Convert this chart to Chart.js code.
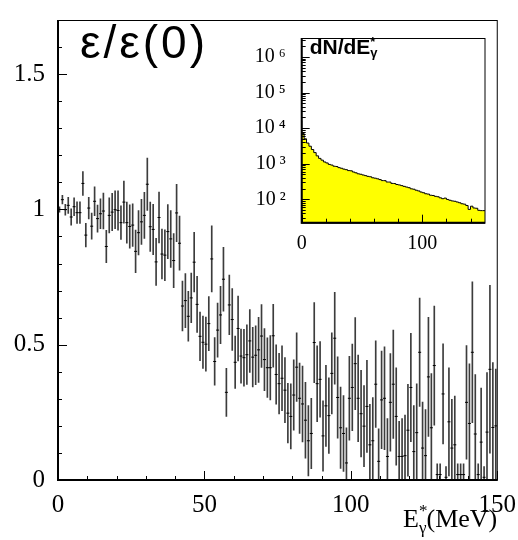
<!DOCTYPE html>
<html>
<head>
<meta charset="utf-8">
<script src="https://cdn.jsdelivr.net/npm/chart.js@4/dist/chart.umd.min.js"></script>
<style>
body { margin: 0; background: #fff; }
#wrap { position: relative; width: 518px; height: 540px; }
#main { position: absolute; left: 0; top: 0; }
#inset { position: absolute; left: 255px; top: 18px; }
</style>
</head>
<body>
<div id="wrap">
  <canvas id="main" width="518" height="540"></canvas>
  <canvas id="inset" width="236" height="232"></canvas>
</div>
<script>
// efficiency ratio eps/eps(0) in 1 MeV bins (centres 0.5 ... 149.5)
const binWidth = 1;
const ratio = [
  1.00, 1.036, 0.999, 1.015, 0.972, 1.01, 0.988, 0.988, 1.096, 0.905,
  1.005, 0.938, 1.03, 0.966, 0.984, 0.994, 0.863, 0.978, 0.99, 0.999,
  0.996, 0.951, 1.027, 0.951, 0.937, 0.942, 0.845, 0.914, 0.954, 0.978,
  1.093, 0.936, 0.926, 0.806, 0.970, 0.835, 0.831, 0.918, 0.891, 0.811,
  0.987, 0.875, 0.643, 0.663, 0.605, 0.673, 0.805, 0.649, 0.531, 0.509,
  0.502, 0.578, 0.817, 0.438, 0.554, 0.610, 0.742, 0.324, 0.647, 0.593,
  0.435, 0.560, 0.458, 0.452, 0.463, 0.514, 0.454, 0.461, 0.481, 0.532,
  0.445, 0.415, 0.415, 0.533, 0.390, 0.356, 0.376, 0.332, 0.247, 0.235,
  0.314, 0.417, 0.302, 0.281, 0.221, 0.145, 0.172, 0.508, 0.356, 0.372,
  0.163, 0.274, 0.238, 0.394, 0.524, 0.305, 0.193, 0.172, 0.063, 0.302,
  0.342, 0.430, 0.302, 0.245, 0.199, 0.272, 0.130, 0.145, 0.354, 0.069,
  0.296, 0.302, 0.087, 0.287, 0.354, 0.235, 0.087, 0.087, 0.090, 0.184,
  0.342, 0.105, 0.175, 0.472, 0.118, 0.090, 0.381, 0.193, 0.423, 0.02,
  0.02, 0.318, 0.01, 0.215, 0.118, 0.130, 0.02, 0.02, 0.02, 0.287,
  0.209, 0.472, 0.170, 0.02, 0.140, 0.01, 0.177, 0.409, 0.194, 0.200
];
const ratioErr = [
  0.01, 0.016, 0.02, 0.03, 0.03, 0.033, 0.04, 0.04, 0.044, 0.044,
  0.04, 0.048, 0.053, 0.05, 0.055, 0.066, 0.06, 0.065, 0.069, 0.07,
  0.073, 0.062, 0.078, 0.076, 0.08, 0.079, 0.079, 0.082, 0.083, 0.085,
  0.097, 0.091, 0.093, 0.087, 0.094, 0.092, 0.094, 0.1, 0.105, 0.1,
  0.106, 0.1, 0.092, 0.1, 0.092, 0.092, 0.11, 0.104, 0.09, 0.097,
  0.1, 0.1, 0.122, 0.088, 0.1, 0.106, 0.118, 0.089, 0.11, 0.114,
  0.097, 0.12, 0.1, 0.105, 0.11, 0.116, 0.11, 0.109, 0.12, 0.116,
  0.115, 0.11, 0.119, 0.116, 0.11, 0.112, 0.12, 0.12, 0.11, 0.12,
  0.13, 0.127, 0.13, 0.14, 0.14, 0.13, 0.13, 0.148, 0.14, 0.14,
  0.13, 0.15, 0.14, 0.15, 0.17, 0.15, 0.15, 0.14, 0.13, 0.155,
  0.16, 0.17, 0.16, 0.16, 0.15, 0.17, 0.15, 0.16, 0.16, 0.12,
  0.18, 0.19, 0.14, 0.18, 0.2, 0.18, 0.13, 0.14, 0.15, 0.17,
  0.2, 0.17, 0.18, 0.2, 0.17, 0.17, 0.22, 0.2, 0.22, 0.04,
  0.04, 0.185, 0.04, 0.2, 0.18, 0.18, 0.04, 0.04, 0.04, 0.21,
  0.22, 0.26, 0.22, 0.04, 0.2, 0.04, 0.22, 0.31, 0.24, 0.21
];
const energy = ratio.map((v, i) => (i + 0.5) * binWidth);

// inset: dN/dE* spectrum, 2 MeV bins from 0 to 152
const histWidth = 2;
const histCounts = [
  16000, 7100, 5000, 3800, 3100, 2500, 2050, 1660, 1410, 1260,
  1120, 1050, 955, 915, 850, 835, 775, 745, 705, 680,
  640, 632, 585, 555, 520, 505, 482, 462, 441, 430,
  402, 392, 376, 358, 335, 334, 306, 305, 280, 277,
  260, 253, 242, 231, 221, 212, 197, 192, 180, 172,
  160, 153, 143, 140, 130, 128, 121, 118, 110, 104,
  108, 99, 94, 90, 88, 84, 80, 75, 73, 67,
  52, 64, 57, 56, 49, 48
];

// tick labels
const xTickLabels = [0, 50, 100, 150];
const yTickLabels = [0, 0.5, 1, 1.5];
const insetXTickLabels = [0, 100];
const insetYTickLabels = [100, 1000, 10000, 100000, 1000000];
const sup = {2: '²', 3: '³', 4: '⁴', 5: '⁵', 6: '⁶'};

Chart.defaults.font.family = '"Liberation Serif", "DejaVu Serif", serif';
Chart.defaults.color = '#000';

// frame with inward ticks, ROOT style
const frameTicks = {
  id: 'frameTicks',
  afterDraw(chart, args, opts) {
    const {ctx, chartArea: a} = chart;
    const x = chart.scales.x, y = chart.scales.y;
    ctx.save();
    ctx.strokeStyle = '#000';
    ctx.lineWidth = 1;
    ctx.beginPath();
    opts.xMarks.forEach(([v, len]) => {
      const px = Math.round(x.getPixelForValue(v)) + 0.5;
      ctx.moveTo(px, a.bottom);
      ctx.lineTo(px, a.bottom - len);
    });
    opts.yMarks.forEach(([v, len]) => {
      const py = Math.round(y.getPixelForValue(v)) + 0.5;
      ctx.moveTo(a.left, py);
      ctx.lineTo(a.left + len, py);
    });
    ctx.stroke();
    ctx.lineWidth = 1;
    ctx.strokeRect(a.left, a.top + 0.5, a.right - a.left, a.bottom - a.top);
    ctx.lineWidth = 2;
    ctx.beginPath();
    ctx.moveTo(a.left, a.top);
    ctx.lineTo(a.left, a.bottom);
    ctx.lineTo(a.right, a.bottom);
    ctx.stroke();
    ctx.restore();
  }
};

const mainText = {
  id: 'mainText',
  afterDraw(chart) {
    const ctx = chart.ctx;
    ctx.save();
    ctx.fillStyle = '#000';
    ctx.textBaseline = 'alphabetic';
    ctx.font = '46px "Liberation Sans", "DejaVu Sans", sans-serif';
    ctx.letterSpacing = '3px';
    ctx.fillText('ε/ε(0)', 80, 58);
    ctx.letterSpacing = '0px';

    // axis title E*_gamma(MeV), right aligned to the frame
    const big = '26px "Liberation Serif", serif';
    const small = '17px "Liberation Serif", serif';
    ctx.font = big;
    const wE = ctx.measureText('E').width;
    const wRest = ctx.measureText('(MeV)').width;
    ctx.font = small;
    const wG = ctx.measureText('γ').width;
    let px = chart.chartArea.right - (wE + wG + wRest);
    const base = 527;
    ctx.font = big;
    ctx.fillText('E', px, base);
    px += wE;
    ctx.font = small;
    ctx.fillText('*', px, base - 11);
    ctx.fillText('γ', px, base + 6);
    px += wG;
    ctx.font = big;
    ctx.fillText('(MeV)', px, base);
    ctx.restore();
  }
};

const xMarks = [];
for (let v = 0; v <= 150; v += 10) xMarks.push([v, v % 50 === 0 ? 9 : 4]);
const yMarks = [];
for (let k = 0; k <= 16; k++) yMarks.push([k / 10, k % 5 === 0 ? 9 : 4]);

new Chart(document.getElementById('main'), {
  type: 'bar',
  data: {
    datasets: [
      {
        type: 'bar',
        data: energy.map((e, i) => ({x: e, y: [Math.max(0, ratio[i] - ratioErr[i]), ratio[i] + ratioErr[i]]})),
        backgroundColor: '#3c3c3c',
        barThickness: 1,
        grouped: false,
        order: 2
      },
      {
        type: 'scatter',
        data: energy.map((e, i) => ({x: e, y: ratio[i]})),
        pointStyle: 'line',
        pointRadius: 1.5,
        borderColor: '#000',
        borderWidth: 1,
        order: 1
      }
    ]
  },
  options: {
    responsive: false,
    animation: false,
    devicePixelRatio: 1,
    layout: {padding: {left: 0, top: 13, right: 20, bottom: 0}},
    plugins: {
      legend: {display: false},
      tooltip: {enabled: false},
      frameTicks: {xMarks: xMarks, yMarks: yMarks}
    },
    scales: {
      x: {
        type: 'linear', min: 0, max: 150, offset: false,
        grid: {display: false}, border: {display: false},
        ticks: {font: {size: 25}, padding: 2, maxRotation: 0, callback: v => String(v)},
        afterBuildTicks(s) { s.ticks = xTickLabels.map(v => ({value: v})); },
        afterFit(s) { s.height = 60; }
      },
      y: {
        min: 0, max: 1.7,
        grid: {display: false}, border: {display: false},
        ticks: {font: {size: 25}, padding: 5, callback: v => String(v)},
        afterBuildTicks(s) { s.ticks = yTickLabels.map(v => ({value: v})); },
        afterFit(s) { s.width = 58; }
      }
    }
  },
  plugins: [frameTicks, mainText]
});

// inset spectrum
const histPoints = histCounts.map((c, i) => ({x: i * histWidth, y: c}));
histPoints.push({x: histCounts.length * histWidth, y: histCounts[histCounts.length - 1]});

const insetYMarks = [];
for (let d = 10; d <= 1e6; d *= 10) {
  for (let m = 1; m <= 9; m++) {
    const v = m * d;
    if (v >= 22 && v <= 3.4e6) insetYMarks.push([v, m === 1 ? 8 : 4]);
  }
}
const insetXMarks = [];
for (let v = 0; v <= 140; v += 20) insetXMarks.push([v, v % 100 === 0 ? 8 : 4]);

const insetText = {
  id: 'insetText',
  afterDraw(chart) {
    const ctx = chart.ctx;
    const a = chart.chartArea;
    ctx.save();
    ctx.fillStyle = '#000';
    ctx.font = 'bold 21px "Liberation Sans", sans-serif';
    let px = a.left + 8;
    const base = 36;
    ctx.fillText('dN/dE', px, base);
    px += ctx.measureText('dN/dE').width;
    ctx.font = 'bold 13px "Liberation Sans", sans-serif';
    ctx.fillText('*', px, base - 8);
    ctx.fillText('γ', px, base + 3);
    ctx.restore();
  }
};

new Chart(document.getElementById('inset'), {
  type: 'line',
  data: {
    datasets: [{
      data: histPoints,
      stepped: 'after',
      fill: 'start',
      backgroundColor: '#ffff00',
      borderColor: '#000',
      borderWidth: 1,
      pointRadius: 0
    }]
  },
  options: {
    responsive: false,
    animation: false,
    devicePixelRatio: 1,
    layout: {padding: {left: 0, top: 10, right: 6, bottom: 0}},
    plugins: {
      legend: {display: false},
      tooltip: {enabled: false},
      frameTicks: {xMarks: insetXMarks, yMarks: insetYMarks}
    },
    scales: {
      x: {
        type: 'linear', min: 0, max: 152,
        grid: {display: false}, border: {display: false},
        ticks: {font: {size: 20}, padding: 1, maxRotation: 0},
        afterBuildTicks(s) { s.ticks = insetXTickLabels.map(v => ({value: v})); },
        afterFit(s) { s.height = 27.3; }
      },
      y: {
        type: 'logarithmic', min: 22, max: 3.4e6,
        grid: {display: false}, border: {display: false},
        ticks: {
          font: {size: 20}, padding: 8,
          callback: v => '10\u2009' + sup[Math.round(Math.log10(v))]
        },
        afterBuildTicks(s) { s.ticks = insetYTickLabels.map(v => ({value: v})); },
        afterFit(s) { s.width = 46.7; }
      }
    }
  },
  plugins: [frameTicks, insetText]
});
</script>
</body>
</html>
